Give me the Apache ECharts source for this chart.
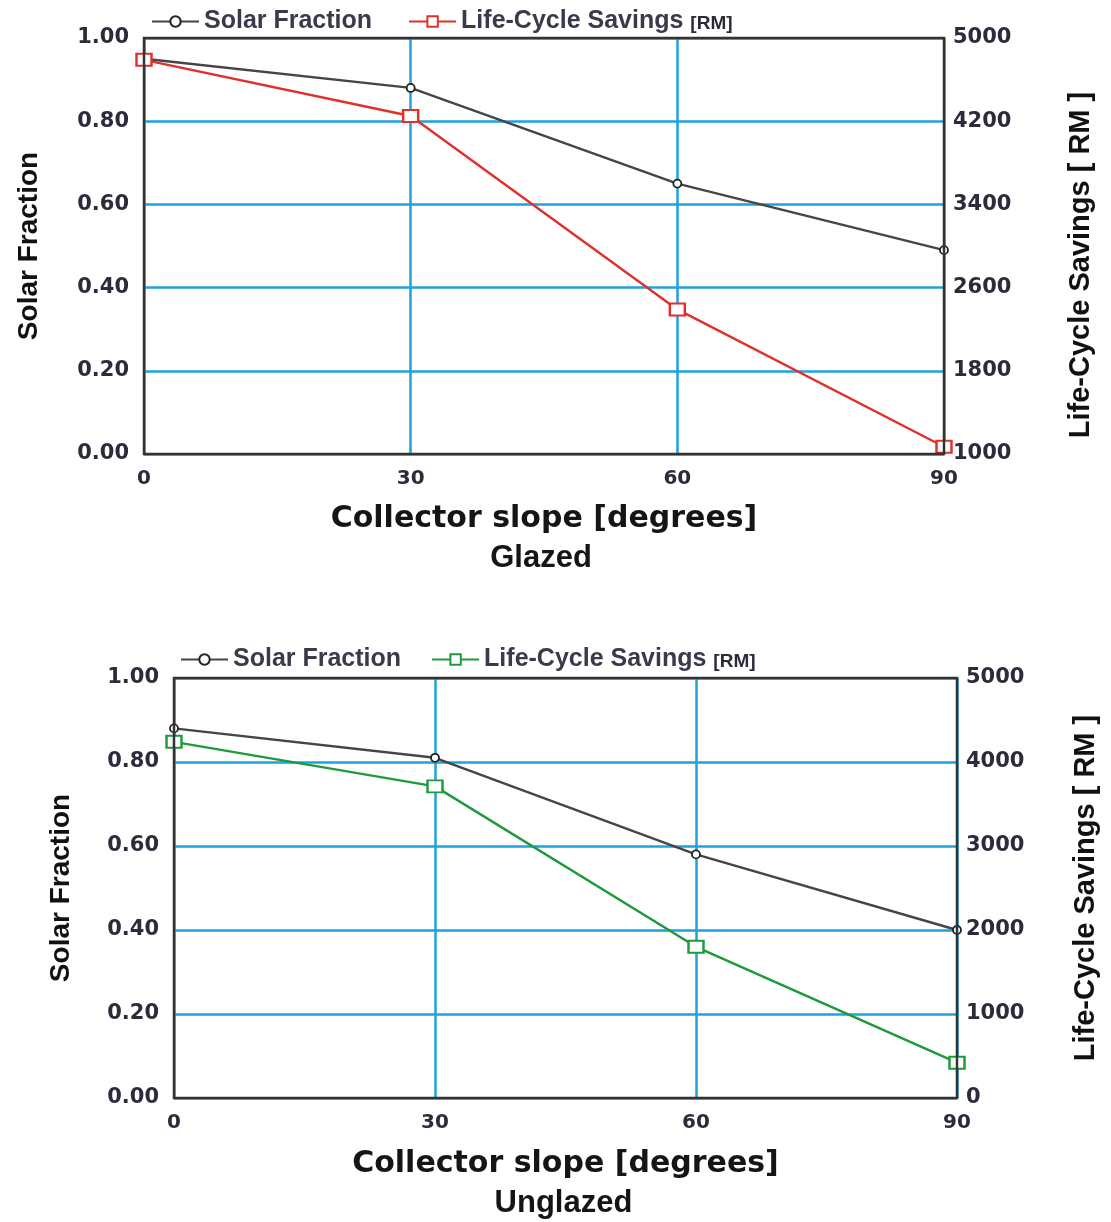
<!DOCTYPE html>
<html>
<head>
<meta charset="utf-8">
<script src="https://cdn.jsdelivr.net/npm/echarts@6/dist/echarts.min.js"></script>
<style>
html,body{margin:0;padding:0;background:#fff;}
#chart{width:1111px;height:1222px;}
</style>
</head>
<body>
<div id="chart"></div>
<script>
// ---- data ----
const slopes = [0, 30, 60, 90];
const glazedSolarFraction = [0.95, 0.88, 0.65, 0.49];
const glazedLCS = [4790, 4250, 2390, 1070];
const unglazedSolarFraction = [0.88, 0.81, 0.58, 0.40];
const unglazedLCS = [4240, 3710, 1800, 420];
const xTicks = [0, 30, 60, 90];
const sfTicks = [0, 0.2, 0.4, 0.6, 0.8, 1.0];
const glazedLcsTicks = [1000, 1800, 2600, 3400, 4200, 5000];
const unglazedLcsTicks = [0, 1000, 2000, 3000, 4000, 5000];
const xTitle = 'Collector slope [degrees]';
const panelNames = ['Glazed', 'Unglazed'];

const BLUE = '#1ea2dc';
const DARK = '#2b2b3b';
const GRAY = '#454545';
const RED = '#e0302c';
const GREEN = '#1e9a3c';
const tickFont = {fontFamily: 'DejaVu Sans', fontWeight: 'bold', color: DARK};
const narrow = "'Liberation Sans Narrow', 'Liberation Sans', Arial, sans-serif";

const chart = echarts.init(document.getElementById('chart'), null, {renderer: 'canvas'});

const grids = [
  {left: 144, top: 38, width: 800, height: 416},
  {left: 174, top: 678, width: 783, height: 420}
];

function xAxis(i) {
  return {
    type: 'value', gridIndex: i, min: xTicks[0], max: xTicks[xTicks.length - 1], interval: 30,
    axisLine: {show: false}, axisTick: {show: false},
    axisLabel: Object.assign({fontSize: 20, margin: 15}, tickFont),
    splitLine: {show: true, lineStyle: {color: BLUE, width: 2.5}}
  };
}
function sfAxis(i, gap) {
  return {
    type: 'value', gridIndex: i, position: 'left', min: sfTicks[0], max: sfTicks[sfTicks.length - 1], interval: 0.2,
    name: 'Solar Fraction', nameLocation: 'middle', nameRotate: 90, nameGap: gap,
    nameTextStyle: {fontFamily: narrow, fontWeight: 'bold', fontSize: 28, color: '#111'},
    axisLine: {show: false}, axisTick: {show: false},
    axisLabel: Object.assign({fontSize: 21, margin: 15, formatter: v => v.toFixed(2)}, tickFont),
    splitLine: {show: true, lineStyle: {color: BLUE, width: 2.5}}
  };
}
function lcsAxis(i, ticks, gap, pad) {
  return {
    type: 'value', gridIndex: i, position: 'right', min: ticks[0], max: ticks[ticks.length - 1],
    interval: ticks[1] - ticks[0],
    name: 'Life-Cycle Savings [ RM ]', nameLocation: 'middle', nameRotate: 90, nameGap: gap,
    nameTextStyle: {fontFamily: narrow, fontWeight: 'bold', fontSize: 29, color: '#111', padding: [0, pad, 0, 0]},
    axisLine: {show: false}, axisTick: {show: false},
    axisLabel: Object.assign({fontSize: 21, margin: 9, formatter: v => String(v)}, tickFont),
    splitLine: {show: false}
  };
}

function sfSeries(name, data, xi, yi) {
  return {
    name, type: 'line', xAxisIndex: xi, yAxisIndex: yi,
    data: slopes.map((s, k) => [s, data[k]]),
    symbol: 'circle', symbolSize: 8, showAllSymbol: true,
    lineStyle: {color: GRAY, width: 2.4},
    itemStyle: {color: '#fff', borderColor: '#222', borderWidth: 1.8},
    z: 3
  };
}
function lcsSeries(name, data, xi, yi, color) {
  return {
    name, type: 'line', xAxisIndex: xi, yAxisIndex: yi,
    data: slopes.map((s, k) => [s, data[k]]),
    symbol: 'rect', symbolSize: [15, 12], showAllSymbol: true,
    lineStyle: {color: color, width: 2.4},
    itemStyle: {color: '#fff', borderColor: color, borderWidth: 2.2},
    z: 4
  };
}

const legendText = {
  fontFamily: "'Liberation Sans', Arial, sans-serif", fontWeight: 'bold', fontSize: 25, color: '#3a3a4a',
  rich: {
    a: {fontFamily: "'Liberation Sans', Arial, sans-serif", fontWeight: 'bold', fontSize: 25, color: '#3a3a4a'},
    b: {fontFamily: narrow, fontWeight: 'bold', fontSize: 19, color: '#2a2a3a', padding: [5, 0, 0, 0]}
  }
};
function legendFormatter(name) {
  if (name.indexOf('LCS') === 0) return '{a|Life-Cycle Savings} {b|[RM]}';
  return '{a|Solar Fraction}';
}

const option = {
  backgroundColor: '#fff',
  animation: false,
  grid: grids.map(g => Object.assign({show: true, borderColor: '#333', borderWidth: 2.5, backgroundColor: 'transparent', z: 5}, g)),
  xAxis: [xAxis(0), xAxis(1)],
  yAxis: [sfAxis(0, 101), lcsAxis(0, glazedLcsTicks, 122, 38), sfAxis(1, 99), lcsAxis(1, unglazedLcsTicks, 114, 0)],
  legend: [
    {data: ['Solar Fraction G', 'LCS G'], left: 146, top: 4, itemWidth: 47, itemHeight: 13, itemGap: 36,
     formatter: legendFormatter, textStyle: legendText, selectedMode: false},
    {data: ['Solar Fraction U', 'LCS U'], left: 175, top: 642, itemWidth: 47, itemHeight: 13, itemGap: 30,
     formatter: legendFormatter, textStyle: legendText, selectedMode: false}
  ],
  series: [
    sfSeries('Solar Fraction G', glazedSolarFraction, 0, 0),
    lcsSeries('LCS G', glazedLCS, 0, 1, RED),
    sfSeries('Solar Fraction U', unglazedSolarFraction, 1, 2),
    lcsSeries('LCS U', unglazedLCS, 1, 3, GREEN)
  ]
};
chart.setOption(option);

// titles centered under each plot
const centers = [grids[0].left + grids[0].width / 2, grids[0].left + grids[0].width / 2 - 3,
                 grids[1].left + grids[1].width / 2, grids[1].left + grids[1].width / 2 - 2];
const titleTops = [504, 543, 1149, 1188];
const titleTexts = [xTitle, panelNames[0], xTitle, panelNames[1]];
const titleFonts = ["bold 30px 'DejaVu Sans'", "bold 31px " + narrow, "bold 30px 'DejaVu Sans'", "bold 31px " + narrow];
chart.setOption({
  graphic: titleTexts.map((t, k) => ({
    type: 'text', x: centers[k], y: titleTops[k],
    style: {text: t, font: titleFonts[k], fill: '#151515', textAlign: 'center', textVerticalAlign: 'top'}
  }))
});
</script>
</body>
</html>
